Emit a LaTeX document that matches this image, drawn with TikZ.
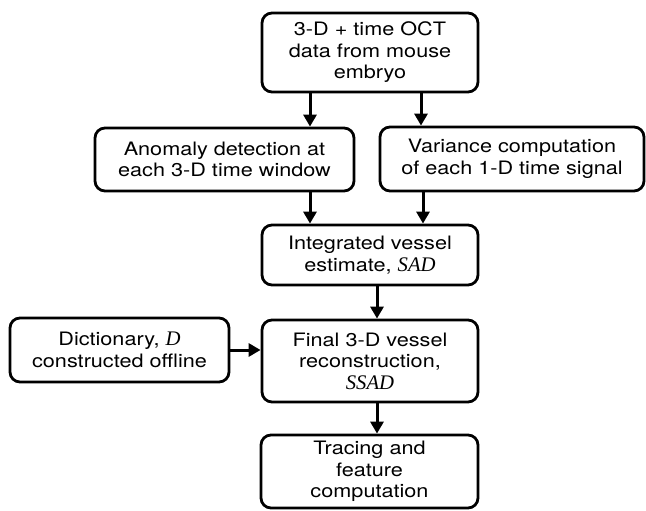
\documentclass[tikz,border=0pt]{standalone}
\usepackage{fontspec}
\setmainfont{TeX Gyre Heros}[FakeStretch=1.17]
\newfontfamily\myserif{Liberation Serif}[Scale=1.12]
\usetikzlibrary{arrows.meta}
\newcommand{\mv}[1]{{\myserif\itshape #1}}
\begin{document}
\begin{tikzpicture}[x=1pt,y=-1pt,
  box/.style={draw,line width=2.8pt,rounded corners=10pt,align=center,inner sep=0pt,
    font=\fontsize{18.5}{21.5}\selectfont},
  arr/.style={line width=3pt,-{Triangle[length=12pt,width=13pt]}}]
\useasboundingbox (0,0) rectangle (646,511);
\node[box,minimum width=216pt,minimum height=79pt] (top) at (370,52.5) {3-D + time OCT\\data from mouse\\embryo};
\node[box,minimum width=259pt,minimum height=63pt] (anom) at (224.5,159.5) {Anomaly detection at\\each 3-D time window};
\node[box,minimum width=264pt,minimum height=64pt] (var) at (512,159) {Variance computation\\of each 1-D time signal};
\node[box,minimum width=216pt,minimum height=60pt] (integ) at (370,255) {Integrated vessel\\estimate, \mv{SAD}};
\node[box,minimum width=219pt,minimum height=64pt] (dict) at (119.5,350) {Dictionary, \mv{D}\\constructed offline};
\node[box,minimum width=216pt,minimum height=82pt] (final) at (370,361) {Final 3-D vessel\\reconstruction,\\\mv{SSAD}};
\node[box,minimum width=217pt,minimum height=73pt] (trace) at (369.5,471.5) {Tracing and\\feature\\computation};
\coordinate (a1) at ([xshift=-60pt]top.south);
\coordinate (a2) at ([xshift=51pt]top.south);
\draw[arr] (a1) -- (a1 |- anom.north);
\draw[arr] (a2) -- (a2 |- var.north);
\coordinate (b1) at ([xshift=85.5pt]anom.south);
\coordinate (b2) at ([xshift=-89pt]var.south);
\draw[arr] (b1) -- (b1 |- integ.north);
\draw[arr] (b2) -- (b2 |- integ.north);
\coordinate (c1) at ([xshift=7pt]integ.south);
\draw[arr] (c1) -- (c1 |- final.north);
\coordinate (c2) at ([xshift=7pt]final.south);
\draw[arr] (c2) -- (c2 |- trace.north);
\draw[arr] (dict.east) -- (dict.east -| final.west);
\end{tikzpicture}
\end{document}
